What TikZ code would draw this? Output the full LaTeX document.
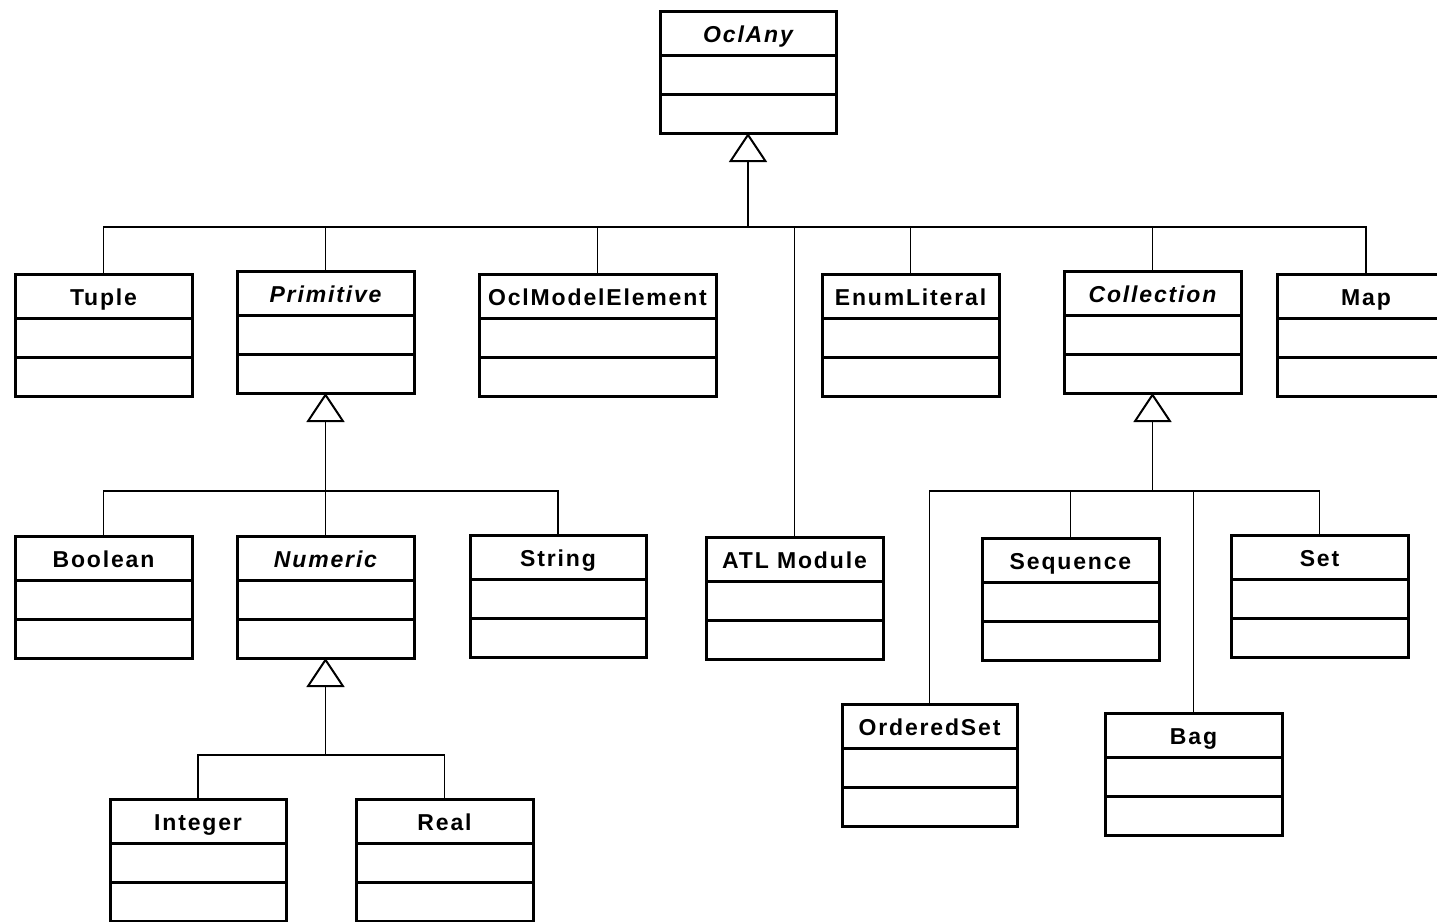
\documentclass[tikz,border=0pt]{standalone}
\usepackage{fontspec}
\usetikzlibrary{arrows.meta}
\newfontfamily\umlfont[LetterSpace=8]{Liberation Sans}

% one UML class: name, top centre, width (px), class name
\newcommand{\umlclass}[4]{%
  \node[classbox, minimum width=#3*0.5pt, anchor=north] (#1) at #2 {};
  \draw[classbox] ([yshift=-22pt]#1.north west) -- ([yshift=-22pt]#1.north east);
  \draw[classbox] ([yshift=-41.5pt]#1.north west) -- ([yshift=-41.5pt]#1.north east);
  \node[classname] (#1-title) at ([yshift=-15.5pt]#1.north) {#4};
}

\begin{document}
\begin{tikzpicture}[x=0.5pt, y=-0.5pt, line cap=butt,
  classbox/.style={draw=black, line width=1.5pt, minimum height=61pt, outer sep=0pt, inner sep=0pt},
  classname/.style={anchor=base, inner sep=0pt, font=\umlfont\bfseries\fontsize{11.5}{13}\selectfont},
  genline/.style={draw=black, line width=0.75pt},
  genarrow/.style={genline, -{Triangle[open, length=14.5pt, width=19pt, line width=1pt]}}]

  \useasboundingbox (0,0) rectangle (1437,922);
  \clip (0,0) rectangle (1437,922);

  % root
  \umlclass{oclany}{(748,11)}{176}{\itshape OclAny}

  % first level
  \umlclass{tuple}{(103.5,274)}{177}{Tuple}
  \umlclass{primitive}{(325.5,271)}{177}{\itshape Primitive}
  \umlclass{oclmodel}{(597.5,274)}{237}{OclModelElement}
  \umlclass{enumlit}{(910.5,274)}{177}{EnumLiteral}
  \umlclass{collection}{(1152.5,271)}{177}{\itshape Collection}
  \umlclass{map}{(1366,274)}{177}{Map}
  \umlclass{atlmodule}{(794.5,537)}{177}{ATL Module}

  % primitive types
  \umlclass{boolean}{(103.5,536)}{177}{Boolean}
  \umlclass{numeric}{(325.5,536)}{177}{\itshape Numeric}
  \umlclass{string}{(558,535)}{176}{String}
  \umlclass{integer}{(198,799)}{176}{Integer}
  \umlclass{real}{(444.5,799)}{177}{Real}

  % collection types
  \umlclass{sequence}{(1070.5,538)}{177}{Sequence}
  \umlclass{set}{(1319.5,535)}{177}{Set}
  \umlclass{orderedset}{(929.5,704)}{175}{OrderedSet}
  \umlclass{bag}{(1193.5,713)}{177}{Bag}

  % generalisation buses
  \coordinate (anyjoin) at (748,227);
  \coordinate (primjoin) at (325.5,491);
  \coordinate (colljoin) at (1152.5,491);
  \coordinate (numjoin) at (325.5,755);

  \foreach \c in {tuple,primitive,oclmodel,enumlit,collection,map,atlmodule}
    \draw[genline] (\c.north) |- (anyjoin);
  \draw[genarrow] (anyjoin) -- (oclany.south);

  \foreach \c in {boolean,numeric,string}
    \draw[genline] (\c.north) |- (primjoin);
  \draw[genarrow] (primjoin) -- (primitive.south);

  \foreach \c in {orderedset,sequence,bag,set}
    \draw[genline] (\c.north) |- (colljoin);
  \draw[genarrow] (colljoin) -- (collection.south);

  \foreach \c in {integer,real}
    \draw[genline] (\c.north) |- (numjoin);
  \draw[genarrow] (numjoin) -- (numeric.south);
\end{tikzpicture}
\end{document}
